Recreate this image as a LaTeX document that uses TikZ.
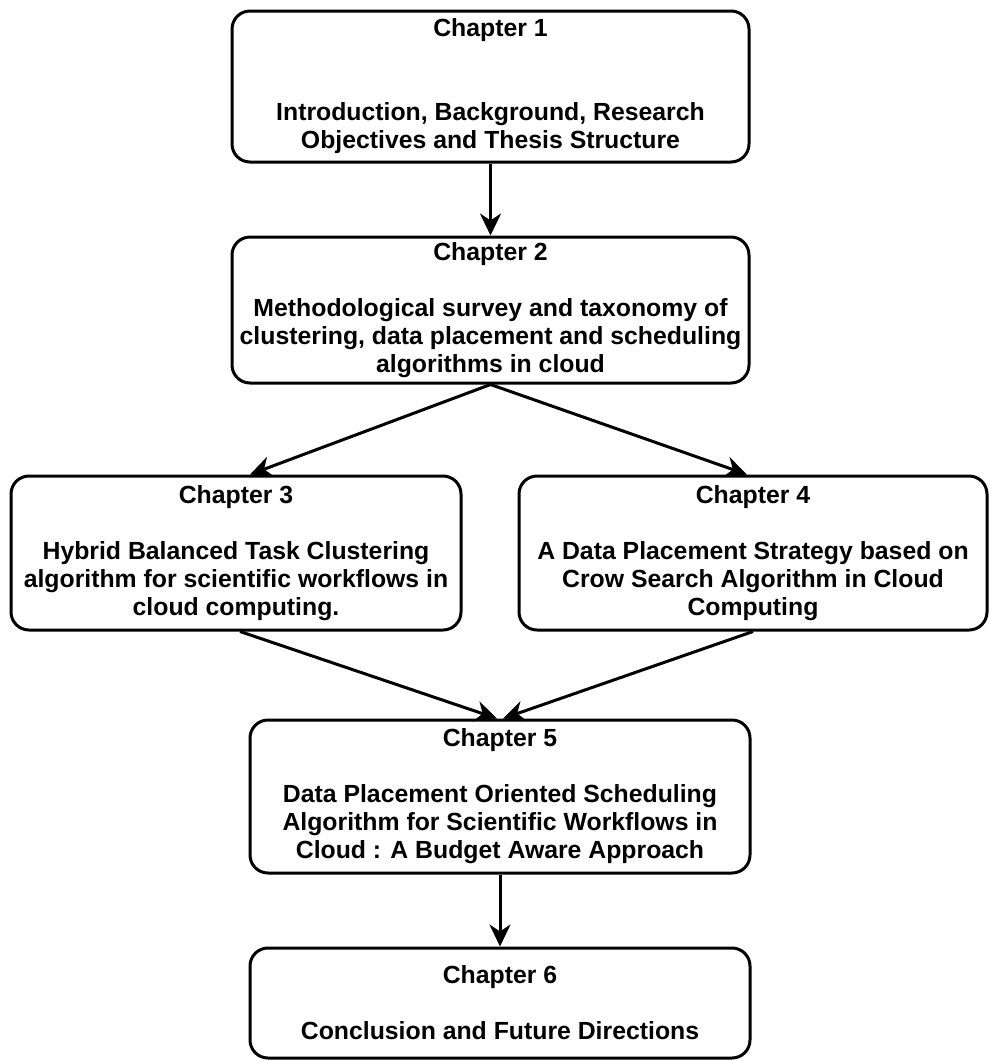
\documentclass[tikz,border=0pt]{standalone}
\usepackage{fontspec}
\setmainfont{Liberation Sans}
\usetikzlibrary{arrows.meta}
\begin{document}
\begin{tikzpicture}[x=1pt,y=-1pt,
  chapbox/.style={draw, line width=3pt, rounded corners=18pt, align=center,
    font=\fontsize{24.8}{28}\selectfont\bfseries, inner sep=0pt},
  link/.style={line width=3pt, -{Stealth[length=22pt,width=21pt,inset=7pt]}}]
\path[use as bounding box] (0,0) rectangle (990,1061);

% chapter boxes
\node[chapbox, minimum width=517pt, minimum height=151pt] (c1) at (490.5,86.5)
  {Chapter 1\\[56pt]Introduction, Background, Research\\Objectives and Thesis Structure};
\node[chapbox, minimum width=517pt, minimum height=146pt] (c2) at (490.5,310)
  {Chapter 2\\[28pt]Methodological survey and taxonomy of\\clustering, data placement and scheduling\\algorithms in cloud};
\node[chapbox, minimum width=450pt, minimum height=154pt] (c3) at (236,553)
  {Chapter 3\\[28pt]Hybrid Balanced Task Clustering\\algorithm for scientific workflows in\\cloud computing.};
\node[chapbox, minimum width=468pt, minimum height=154pt] (c4) at (753,553)
  {Chapter 4\\[28pt]A Data Placement Strategy based on\\Crow Search Algorithm in Cloud\\Computing};
\node[chapbox, minimum width=500pt, minimum height=153pt] (c5) at (500,796.5)
  {Chapter 5\\[28pt]Data Placement Oriented Scheduling\\Algorithm for Scientific Workflows in\\Cloud : A Budget Aware Approach};
\node[chapbox, minimum width=500pt, minimum height=110pt] (c6) at (500,1003)
  {Chapter 6\\[28pt]Conclusion and Future Directions};

% connectors
\draw[link] (c1.south) -- (c2.north);
\draw[link] (c2.south) -- ([xshift=14pt]c3.north);
\draw[link] (c2.south) -- ([xshift=-6pt]c4.north);
\draw[link] ([xshift=4pt]c3.south) -- ([xshift=-3pt]c5.north);
\draw[link] (c4.south) -- ([xshift=3pt]c5.north);
\draw[link] (c5.south) -- (c6.north);
\end{tikzpicture}
\end{document}
